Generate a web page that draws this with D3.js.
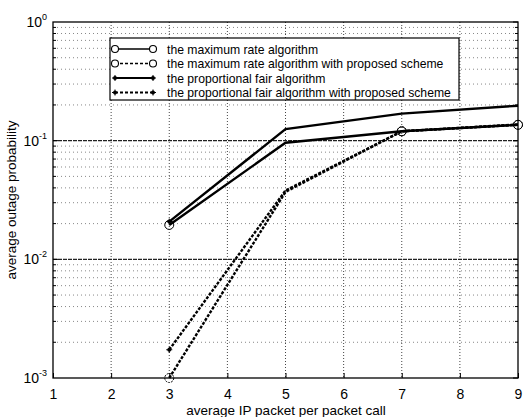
<!DOCTYPE html>
<html><head><meta charset="utf-8">
<script src="https://cdn.jsdelivr.net/npm/d3@7"></script>
<style>body{margin:0;background:#fff}svg{display:block}text{font-family:"Liberation Sans",Arial,Helvetica,sans-serif;fill:#000}</style>
</head><body><svg id="c" width="525" height="417"></svg>
<script>
const xValues = [3, 5, 7, 9];
const maxRate = [0.0195, 0.096, 0.12, 0.136];
const maxRateProposed = [0.001, 0.037, 0.12, 0.136];
const propFair = [0.0208, 0.125, 0.169, 0.197];
const propFairProposed = [0.00173, 0.038, 0.12, 0.137];
const circleMarkedX = [3, 7, 9];
const plusMarkedX = [3];
const xTicks = [1, 2, 3, 4, 5, 6, 7, 8, 9];
const yTickExps = [0, -1, -2, -3];
const legendLabels = [
  "the maximum rate algorithm",
  "the maximum rate algorithm with proposed scheme",
  "the proportional fair algorithm",
  "the proportional fair algorithm with proposed scheme"
];
const xLabel = "average IP packet per packet call";
const yLabel = "average outage probability";

const svg = d3.select("#c");
const L = 53, R = 518, T = 22, B = 378;
const x = d3.scaleLinear().domain([1, 9]).range([L, R]);
const y = d3.scaleLog().domain([1e-3, 1]).range([B, T]);

// grid
const g = svg.append("g");
xTicks.slice(1, -1).forEach(v => {
  g.append("line").attr("x1", x(v)).attr("x2", x(v)).attr("y1", T).attr("y2", B)
    .attr("stroke", "#444").attr("stroke-width", 1).attr("stroke-dasharray", "1,2");
});
const minor = [];
[-3, -2, -1].forEach(e => { for (let k = 1; k <= 9; k++) minor.push(k * Math.pow(10, e)); });
minor.forEach(v => {
  if (v <= 1e-3 || v >= 1) return;
  const major = Math.abs(Math.log10(v) - Math.round(Math.log10(v))) < 1e-9;
  g.append("line").attr("x1", L).attr("x2", R).attr("y1", y(v)).attr("y2", y(v))
    .attr("stroke", major ? "#222" : "#888").attr("stroke-width", major ? 1.2 : 1)
    .attr("stroke-dasharray", major ? "4,1" : "1,3");
  g.append("line").attr("x1", L).attr("x2", L + (major ? 5 : 3)).attr("y1", y(v)).attr("y2", y(v)).attr("stroke", "#000");
  g.append("line").attr("x1", R).attr("x2", R - (major ? 5 : 3)).attr("y1", y(v)).attr("y2", y(v)).attr("stroke", "#000");
});

// frame
svg.append("rect").attr("x", L).attr("y", T).attr("width", R - L).attr("height", B - T)
  .attr("fill", "none").attr("stroke", "#000").attr("stroke-width", 1.3);

// x axis
const xa = svg.append("g").attr("transform", `translate(0,${B})`)
  .call(d3.axisBottom(x).tickValues(xTicks).tickSize(-5).tickPadding(11).tickFormat(d3.format("d")));
xa.select(".domain").remove();
xa.selectAll("text").attr("font-size", 14).style("font-family", "Liberation Sans, Arial");
xa.selectAll("line").attr("stroke", "#000");

// y axis labels
yTickExps.forEach(e => {
  const t = svg.append("text").attr("x", 47).attr("y", y(Math.pow(10, e)) + 5)
    .attr("text-anchor", "end").attr("font-size", 14);
  t.append("tspan").text("10");
  t.append("tspan").attr("dy", -7).attr("font-size", 9).text(e === 0 ? "0" : e);
});
yTickExps.forEach(e => {
  svg.append("line").attr("x1", R).attr("x2", R - 5).attr("y1", y(Math.pow(10, e))).attr("y2", y(Math.pow(10, e))).attr("stroke", "#000");
});

svg.append("text").attr("x", 286).attr("y", 415).attr("text-anchor", "middle").attr("font-size", 13.5).text(xLabel);
svg.append("text").attr("transform", `translate(16,${(T + B) / 2}) rotate(-90)`)
  .attr("text-anchor", "middle").attr("font-size", 13.5).text(yLabel);

// series
const series = [
  { vals: maxRate, dash: null, marker: "circle" },
  { vals: maxRateProposed, dash: "3,1.5", marker: "circle" },
  { vals: propFair, dash: null, marker: "plus" },
  { vals: propFairProposed, dash: "3,1.5", marker: "plus" }
];
const line = d3.line().x(d => x(d[0])).y(d => y(d[1]));
const plot = svg.append("g");
series.forEach(s => {
  const pts = xValues.map((v, i) => [v, s.vals[i]]);
  plot.append("path").attr("d", line(pts)).attr("fill", "none").attr("stroke", "#000")
    .attr("stroke-width", 2.4).attr("stroke-dasharray", s.dash);
  const marks = s.marker === "circle" ? circleMarkedX : plusMarkedX;
  pts.filter(p => marks.includes(p[0])).forEach(p => drawMarker(plot, s.marker, x(p[0]), y(p[1]), s.dash));
});

function drawMarker(sel, type, cx, cy, dash) {
  if (type === "circle") {
    sel.append("circle").attr("cx", cx).attr("cy", cy).attr("r", 4.5).attr("fill", "none")
      .attr("stroke", "#000").attr("stroke-width", 1).attr("stroke-dasharray", dash ? "2,1" : null);
  } else {
    sel.append("circle").attr("cx", cx).attr("cy", cy).attr("r", 2).attr("fill", "#000");
    sel.append("line").attr("x1", cx - 3).attr("x2", cx + 3).attr("y1", cy).attr("y2", cy).attr("stroke", "#000");
    sel.append("line").attr("x1", cx).attr("x2", cx).attr("y1", cy - 3).attr("y2", cy + 3).attr("stroke", "#000");
  }
}

// legend
const lg = svg.append("g");
lg.append("rect").attr("x", 110).attr("y", 38).attr("width", 349).attr("height", 62)
  .attr("fill", "#fff").attr("stroke", "#000").attr("stroke-width", 1.2);
legendLabels.forEach((lab, i) => {
  const yy = 49 + i * 14.5;
  const s = series[i];
  lg.append("line").attr("x1", 115).attr("x2", 153).attr("y1", yy).attr("y2", yy).attr("stroke", "#000")
    .attr("stroke-width", s.marker === "plus" ? 2 : 1.3).attr("stroke-dasharray", s.dash ? "3,2" : null);
  if (s.marker === "circle") {
    [115, 153].forEach(mx => lg.append("circle").attr("cx", mx).attr("cy", yy).attr("r", 3.5)
      .attr("fill", "#fff").attr("stroke", "#000").attr("stroke-width", 1.1));
  } else {
    [115, 153].forEach(mx => drawMarker(lg, "plus", mx, yy, null));
  }
  lg.append("text").attr("x", 167).attr("y", yy + 4.5).attr("font-size", 12.2).text(lab);
});
</script></body></html>
